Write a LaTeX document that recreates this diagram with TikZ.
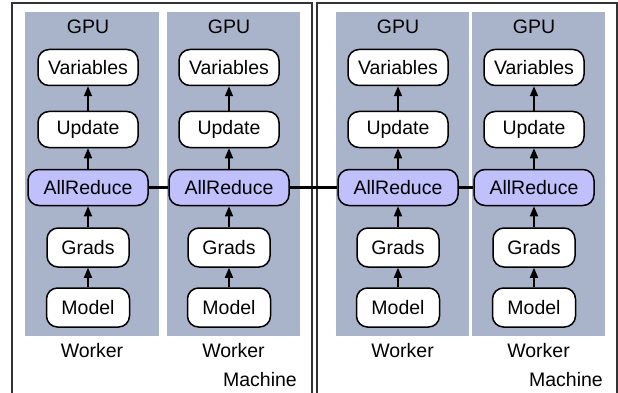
\documentclass[tikz,border=0pt]{standalone}
\usepackage{fontspec}
\setmainfont{Liberation Sans}
\usetikzlibrary{arrows.meta}
\definecolor{panel}{HTML}{A9B4CB}
\definecolor{arfill}{HTML}{BFC0FC}
\begin{document}
\begin{tikzpicture}[x=1pt,y=-1pt,
  txt/.style={font=\fontsize{19.5}{22}\selectfont},
  box/.style={txt,draw=black,line width=1.5pt,fill=white,rounded corners=11pt,inner sep=0pt},
  arbox/.style={box,fill=arfill},
  up/.style={-{Triangle[width=8pt,length=10pt]},line width=1.6pt},
  link/.style={line width=2.6pt},
  machine/.style={draw=black!80,line width=1.5pt},
  gpupanel/.style={fill=panel}]
\clip (0,0) rectangle (618,393);
\fill[white] (0,0) rectangle (618,393);
\draw[machine] (12,3) rectangle (312,410);
\draw[machine] (317,3) rectangle (617,410);
\fill[gpupanel] (25,12) rectangle (159,336);
\fill[gpupanel] (167,12) rectangle (300,336);
\fill[gpupanel] (336,12) rectangle (469,336);
\fill[gpupanel] (472,12) rectangle (605,336);
\foreach \i/\cx/\px in {1/88/92,2/229/233.5,3/398/402.5,4/534/538.5}{
  \node[txt] (gpu\i) at (\cx,27) {GPU};
  \node[box,minimum width=100pt,minimum height=36pt] (var\i) at (\cx,67.5) {Variables};
  \node[box,minimum width=100pt,minimum height=36pt] (upd\i) at (\cx,129.5) {Update};
  \node[arbox,minimum width=120pt,minimum height=36pt] (ar\i) at (\cx,187.5) {AllReduce};
  \node[box,minimum width=82pt,minimum height=39pt] (gr\i) at (\cx,247.5) {Grads};
  \node[box,minimum width=83pt,minimum height=39pt] (mod\i) at (\cx,307.5) {Model};
  \draw[up] (upd\i) -- (var\i);
  \draw[up] (ar\i) -- (upd\i);
  \draw[up] (gr\i) -- (ar\i);
  \draw[up] (mod\i) -- (gr\i);
  \node[txt] (wk\i) at (\px,351) {Worker};
}
\draw[link] (ar1) -- (ar2);
\draw[link] (ar2) -- (ar3);
\draw[link] (ar3) -- (ar4);
\node[txt,anchor=east,inner sep=0pt] (m1) at (297,380) {Machine};
\node[txt,anchor=east,inner sep=0pt] (m2) at (603,380) {Machine};
\end{tikzpicture}
\end{document}
